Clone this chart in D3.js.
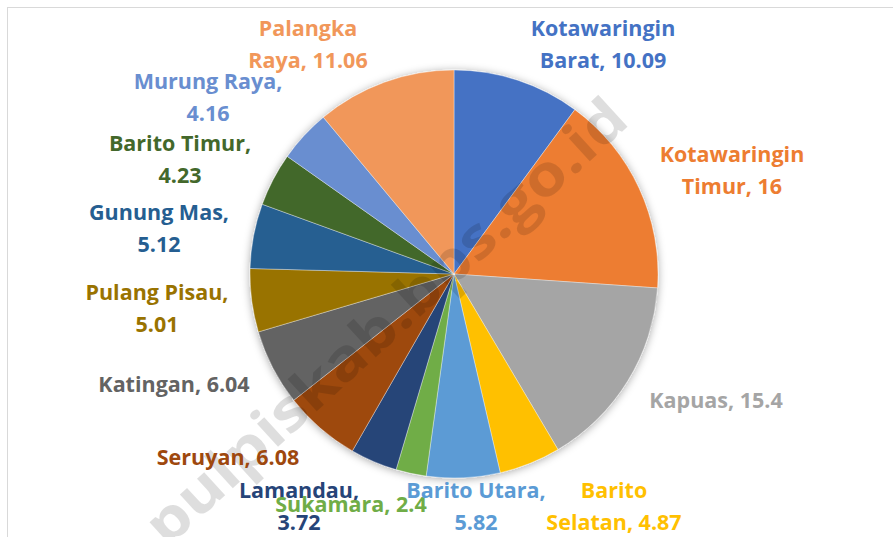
<!DOCTYPE html>
<html>
<head>
<meta charset="utf-8">
<script src="https://cdn.jsdelivr.net/npm/d3@7"></script>
<style>
  html, body { margin: 0; padding: 0; background: #ffffff; }
  svg { display: block; }
</style>
</head>
<body>
<svg id="chart" width="893" height="537"></svg>
<script>
// ---- data ----
const categories = [
  "Kotawaringin Barat", "Kotawaringin Timur", "Kapuas", "Barito Selatan",
  "Barito Utara", "Sukamara", "Lamandau", "Seruyan", "Katingan",
  "Pulang Pisau", "Gunung Mas", "Barito Timur", "Murung Raya", "Palangka Raya"
];
const values = [10.09, 16, 15.4, 4.87, 5.82, 2.4, 3.72, 6.08, 6.04, 5.01, 5.12, 4.23, 4.16, 11.06];
const colors = [
  "#4472C4", "#ED7D31", "#A5A5A5", "#FFC000", "#5B9BD5", "#70AD47", "#264478",
  "#9E480E", "#636363", "#997300", "#255E91", "#43682B", "#698ED0", "#F1975A"
];
const watermarkText = "pulpiskab.bps.go.id";

// ---- layout (label block centre x, first baseline y, words on first line) ----
const labelLayout = [
  [603, 36, 1], [732, 162, 1], [716, 408, 9], [614, 498, 1], [476, 498, 2],
  [351, 512, 9], [299, 498, 1], [228, 465, 9], [174, 392, 9], [157, 300, 2],
  [159, 220, 2], [180, 151, 2], [208, 89, 2], [308, 36, 1]
];

const svg = d3.select("#chart");
const cx = 454, cy = 274, R = 204;

// frame
svg.append("rect")
  .attr("x", 7.5).attr("y", 7.5).attr("width", 920).attr("height", 600)
  .attr("fill", "none").attr("stroke", "#d9d9d9").attr("stroke-width", 1);

const defs = svg.append("defs");
const f = defs.append("filter").attr("id", "shadow")
  .attr("x", "-20%").attr("y", "-20%").attr("width", "140%").attr("height", "140%");
f.append("feDropShadow").attr("dx", 0).attr("dy", 1).attr("stdDeviation", 4)
  .attr("flood-color", "#000").attr("flood-opacity", 0.35);

const pie = d3.pie().sort(null).value(d => d.v);
const data = categories.map((c, i) => ({ name: c, v: values[i], color: colors[i], i }));
const arcs = pie(data);
const arc = d3.arc().innerRadius(0).outerRadius(R);

const g = svg.append("g").attr("transform", `translate(${cx},${cy})`).attr("filter", "url(#shadow)");
g.selectAll("path").data(arcs).enter().append("path")
  .attr("d", arc)
  .attr("fill", d => d.data.color)
  .attr("stroke", "#ffffff").attr("stroke-width", 0.6).attr("stroke-opacity", 0.6);

// watermark
svg.append("text")
  .attr("transform", "translate(399,336) rotate(-42.5)")
  .attr("text-anchor", "middle")
  .attr("font-family", "'Open Sans', sans-serif")
  .attr("font-weight", 700)
  .attr("font-size", 57)
  .attr("textLength", 630).attr("lengthAdjust", "spacingAndGlyphs")
  .attr("fill", "#000").attr("fill-opacity", 0.13)
  .text(watermarkText);

// labels
const order = d3.range(data.length).reverse();
const lg = svg.append("g")
  .attr("font-family", "'Open Sans', sans-serif")
  .attr("font-weight", 700)
  .attr("font-size", 21.5)
  .attr("text-anchor", "middle");
order.forEach(i => {
  const d = data[i];
  const [lx, ly, nFirst] = labelLayout[i];
  const words = `${d.name}, ${d.v}`.split(" ");
  const lines = [words.slice(0, nFirst).join(" ")];
  if (words.length > nFirst) lines.push(words.slice(nFirst).join(" "));
  const t = lg.append("text").attr("fill", d.color);
  lines.forEach((ln, k) => {
    t.append("tspan").attr("x", lx).attr("y", ly + k * 32).text(ln);
  });
});
</script>
</body>
</html>
